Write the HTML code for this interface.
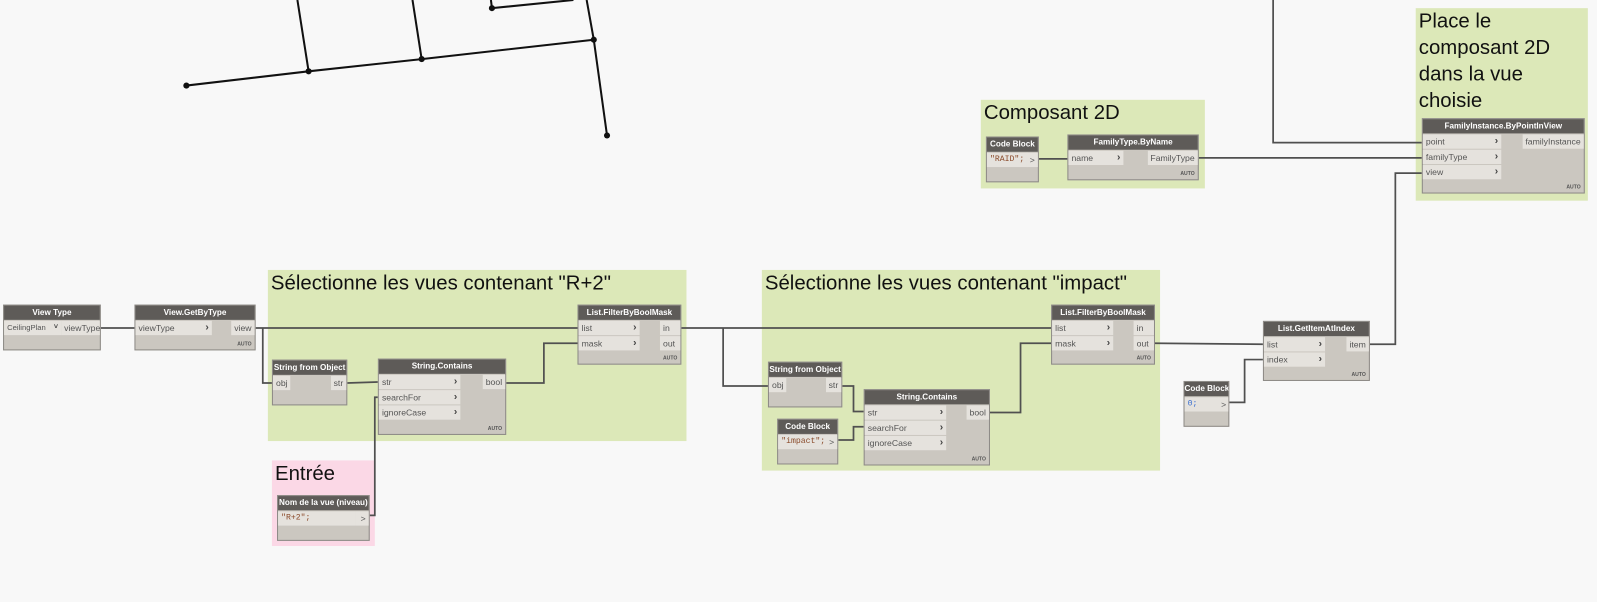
<!DOCTYPE html>
<html><head><meta charset="utf-8">
<style>
html,body{margin:0;padding:0;background:#f8f8f8;overflow:hidden;width:1597px;height:602px}
#w{position:absolute;left:0;top:0;width:1568px;height:591px;transform:scale(1.01850,1.01861);transform-origin:0 0;font-family:"Liberation Sans",sans-serif}
.g{position:absolute;background:#dce8b8}
.g .t{position:absolute;left:3px;top:0;font-size:20px;color:#111;line-height:26px;white-space:nowrap}
.p{background:#fbd8e6}
.n{position:absolute;background:#cbc7c0;border:1px solid #8d8a86;box-sizing:border-box}
.hd{height:14px;background:#5e5b58;color:#fff;font-weight:bold;font-size:8px;line-height:14px;text-align:center;white-space:nowrap;overflow:hidden}
.r{position:absolute;height:14px;background:#e5e2dd;font-size:8.5px;line-height:14px;color:#555;padding-left:3px;box-sizing:border-box;white-space:nowrap}
.r b{position:absolute;right:3px;top:0;color:#444;font-size:10px}
.o{position:absolute;height:14px;background:#e5e2dd;font-size:8.5px;line-height:14px;color:#555;right:0;padding:0 3px;box-sizing:border-box;white-space:nowrap;text-align:right}
.a{position:absolute;right:3px;bottom:2px;font-size:5px;color:#555;font-weight:bold}
.c{font-family:"Liberation Mono",monospace;color:#8a4a2a;font-size:8px}
</style></head><body><div id="w">

<div class="g" style="left:263px;top:265px;width:411px;height:168px"><div class="t">Sélectionne les vues contenant "R+2"</div></div>
<div class="g p" style="left:267px;top:452px;width:101px;height:84px"><div class="t">Entrée</div></div>
<div class="g" style="left:748px;top:265px;width:391px;height:197px"><div class="t">Sélectionne les vues contenant "impact"</div></div>
<div class="g" style="left:963px;top:98px;width:220px;height:87px"><div class="t">Composant 2D</div></div>
<div class="g" style="left:1390px;top:8px;width:169px;height:189px"><div class="t">Place le<br>composant 2D<br>dans la vue<br>choisie</div></div>

<svg style="position:absolute;left:0;top:0" width="1568" height="591">
<g stroke="#111" stroke-width="2" fill="none">
<polyline points="183,84 303,70 414,58 583,39 596,133"/>
<line x1="292" y1="0" x2="303" y2="70"/>
<line x1="405" y1="0" x2="414" y2="58"/>
<line x1="576" y1="0" x2="583" y2="39"/>
<polyline points="482,0 483,8 563,0"/>
</g>
<g fill="#111"><circle cx="183" cy="84" r="3"/><circle cx="303" cy="70" r="3"/><circle cx="414" cy="58" r="3"/><circle cx="583" cy="39" r="3"/><circle cx="596" cy="133" r="3"/><circle cx="483" cy="8" r="3"/></g>
<g stroke="#505050" stroke-width="1.7" fill="none">
<line x1="99" y1="322" x2="132" y2="322"/>
<line x1="251" y1="322" x2="567" y2="322"/>
<polyline points="258,322 258,376 267,376"/>
<polyline points="341,376 371,375"/>
<polyline points="363,506 368,506 368,390 371,390"/>
<polyline points="497,376 534,376 534,337 567,337"/>
<line x1="669" y1="322" x2="1032" y2="322"/>
<polyline points="710,322 710,379 754,379"/>
<polyline points="827,379 838,379 838,404 848,404"/>
<polyline points="823,432 838,432 838,419 848,419"/>
<polyline points="972,405 1002,405 1002,337 1032,337"/>
<polyline points="1134,337 1240,338"/>
<polyline points="1206,395 1222,395 1222,353 1240,353"/>
<polyline points="1345,338 1370,338 1370,170 1396,170"/>
<line x1="1020" y1="156" x2="1048" y2="156"/>
<line x1="1177" y1="155" x2="1396" y2="155"/>
<polyline points="1250,0 1250,140 1396,140"/>
</g>
</svg>

<div class="n" style="left:3px;top:299px;width:96px;height:45px"><div class="hd">View Type</div>
<div class="r" style="left:0;top:15px;width:56px;font-size:7.5px">CeilingPlan<b style="font-size:7px">˅</b></div><div class="o" style="top:15px;width:38px">viewType</div></div>

<div class="n" style="left:132px;top:299px;width:119px;height:45px"><div class="hd">View.GetByType</div>
<div class="r" style="left:0;top:15px;width:75px">viewType<b>›</b></div><div class="o" style="top:15px">view</div><div class="a">AUTO</div></div>

<div class="n" style="left:267px;top:353px;width:74px;height:45px"><div class="hd">String from Object</div>
<div class="r" style="left:0;top:15px;width:17px">obj</div><div class="o" style="top:15px">str</div></div>

<div class="n" style="left:371px;top:352px;width:126px;height:75px"><div class="hd">String.Contains</div>
<div class="r" style="left:0;top:15px;width:80px">str<b>›</b></div>
<div class="r" style="left:0;top:30px;width:80px">searchFor<b>›</b></div>
<div class="r" style="left:0;top:45px;width:80px">ignoreCase<b>›</b></div>
<div class="o" style="top:15px">bool</div><div class="a">AUTO</div></div>

<div class="n" style="left:567px;top:299px;width:102px;height:59px"><div class="hd">List.FilterByBoolMask</div>
<div class="r" style="left:0;top:15px;width:60px">list<b>›</b></div>
<div class="r" style="left:0;top:30px;width:60px">mask<b>›</b></div>
<div class="o" style="top:15px;width:20px;text-align:left">in</div><div class="o" style="top:30px;width:20px;text-align:left">out</div><div class="a">AUTO</div></div>

<div class="n" style="left:272px;top:486px;width:91px;height:45px"><div class="hd">Nom de la vue (niveau)</div>
<div class="r c" style="left:0;top:15px;width:76px">"R+2";</div><div class="o" style="top:15px;width:13px">&gt;</div></div>

<div class="n" style="left:754px;top:355px;width:73px;height:45px"><div class="hd">String from Object</div>
<div class="r" style="left:0;top:15px;width:17px">obj</div><div class="o" style="top:15px">str</div></div>

<div class="n" style="left:763px;top:411px;width:60px;height:45px"><div class="hd">Code Block</div>
<div class="r c" style="left:0;top:15px;width:48px">"impact";</div><div class="o" style="top:15px;width:11px">&gt;</div></div>

<div class="n" style="left:848px;top:382px;width:124px;height:75px"><div class="hd">String.Contains</div>
<div class="r" style="left:0;top:15px;width:80px">str<b>›</b></div>
<div class="r" style="left:0;top:30px;width:80px">searchFor<b>›</b></div>
<div class="r" style="left:0;top:45px;width:80px">ignoreCase<b>›</b></div>
<div class="o" style="top:15px">bool</div><div class="a">AUTO</div></div>

<div class="n" style="left:1032px;top:299px;width:102px;height:59px"><div class="hd">List.FilterByBoolMask</div>
<div class="r" style="left:0;top:15px;width:60px">list<b>›</b></div>
<div class="r" style="left:0;top:30px;width:60px">mask<b>›</b></div>
<div class="o" style="top:15px;width:20px;text-align:left">in</div><div class="o" style="top:30px;width:20px;text-align:left">out</div><div class="a">AUTO</div></div>

<div class="n" style="left:1162px;top:374px;width:45px;height:45px"><div class="hd">Code Block</div>
<div class="r c" style="left:0;top:15px;width:34px;color:#3a6fd0">0;</div><div class="o" style="top:15px;width:10px">&gt;</div></div>

<div class="n" style="left:1240px;top:315px;width:105px;height:59px"><div class="hd">List.GetItemAtIndex</div>
<div class="r" style="left:0;top:15px;width:60px">list<b>›</b></div>
<div class="r" style="left:0;top:30px;width:60px">index<b>›</b></div>
<div class="o" style="top:15px">item</div><div class="a">AUTO</div></div>

<div class="n" style="left:968px;top:134px;width:52px;height:45px"><div class="hd">Code Block</div>
<div class="r c" style="left:0;top:15px;width:40px">"RAID";</div><div class="o" style="top:15px;width:11px">&gt;</div></div>

<div class="n" style="left:1048px;top:132px;width:129px;height:45px"><div class="hd">FamilyType.ByName</div>
<div class="r" style="left:0;top:15px;width:54px">name<b>›</b></div><div class="o" style="top:15px">FamilyType</div><div class="a">AUTO</div></div>

<div class="n" style="left:1396px;top:116px;width:160px;height:74px"><div class="hd">FamilyInstance.ByPointInView</div>
<div class="r" style="left:0;top:15px;width:77px">point<b>›</b></div>
<div class="r" style="left:0;top:30px;width:77px">familyType<b>›</b></div>
<div class="r" style="left:0;top:45px;width:77px">view<b>›</b></div>
<div class="o" style="top:15px">familyInstance</div><div class="a">AUTO</div></div>

</div></body></html>
